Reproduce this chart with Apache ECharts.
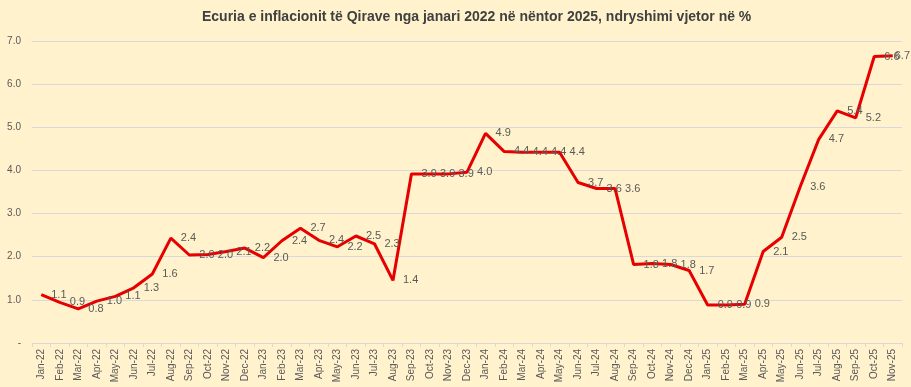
<!DOCTYPE html>
<html>
<head>
<meta charset="utf-8">
<script src="https://cdn.jsdelivr.net/npm/echarts@6/dist/echarts.min.js"></script>
<style>
html,body{margin:0;padding:0;background:#fff2cc;}
#chart{width:911px;height:387px;}
</style>
</head>
<body>
<div id="chart"></div>
<script>
const titleText = 'Ecuria e inflacionit të Qirave nga janari 2022 në nëntor 2025, ndryshimi vjetor në %';
const months = ['Jan-22','Feb-22','Mar-22','Apr-22','May-22','Jun-22','Jul-22','Aug-22','Sep-22','Oct-22','Nov-22','Dec-22',
  'Jan-23','Feb-23','Mar-23','Apr-23','May-23','Jun-23','Jul-23','Aug-23','Sep-23','Oct-23','Nov-23','Dec-23',
  'Jan-24','Feb-24','Mar-24','Apr-24','May-24','Jun-24','Jul-24','Aug-24','Sep-24','Oct-24','Nov-24','Dec-24',
  'Jan-25','Feb-25','Mar-25','Apr-25','May-25','Jun-25','Jul-25','Aug-25','Sep-25','Oct-25','Nov-25'];
const inflation = [1.12,0.94,0.79,0.97,1.08,1.28,1.6,2.43,2.04,2.05,2.12,2.2,
  1.98,2.37,2.66,2.38,2.23,2.48,2.3,1.45,3.92,3.92,3.92,3.96,
  4.86,4.44,4.42,4.42,4.42,3.72,3.58,3.58,1.82,1.84,1.82,1.68,
  0.88,0.88,0.9,2.12,2.45,3.62,4.72,5.38,5.22,6.64,6.66];
const yMin = 0, yMax = 7, yStep = 1;

const chart = echarts.init(document.getElementById('chart'));
chart.setOption({
  backgroundColor: '#fff2cc',
  animation: false,
  textStyle: {fontFamily: 'Liberation Sans, Arial, sans-serif'},
  title: {
    text: titleText,
    left: 197,
    top: 5,
    textStyle: {fontSize: 14, fontWeight: 'bold', color: '#404040', fontFamily: 'Liberation Sans, Arial, sans-serif'}
  },
  grid: {left: 32, right: 9, top: 41, bottom: 44, containLabel: false},
  xAxis: {
    type: 'category',
    data: months,
    boundaryGap: true,
    axisLine: {lineStyle: {color: '#d9d9d9', width: 1}},
    axisTick: {show: true, length: 4, lineStyle: {color: '#d9d9d9'}},
    axisLabel: {rotate: 90, interval: 0, fontSize: 10, color: '#595959', margin: 6}
  },
  yAxis: {
    type: 'value',
    min: yMin, max: yMax, interval: yStep,
    axisLine: {show: false},
    axisTick: {show: false},
    splitLine: {lineStyle: {color: '#d9d9d9', width: 1}},
    axisLabel: {fontSize: 10, color: '#595959', margin: 11,
      formatter: v => v === 0 ? '-' : v.toFixed(1)}
  },
  series: [{
    type: 'line',
    data: inflation,
    symbol: 'circle',
    symbolSize: 0,
    showSymbol: true,
    lineStyle: {color: '#e60000', width: 3},
    itemStyle: {color: '#e60000'},
    labelLayout: function (p) {
      const over = p.labelRect.x + p.labelRect.width - 910;
      return over > 0 ? {dx: -over, hideOverlap: false} : {hideOverlap: false};
    },
    label: {show: true, position: 'right', distance: 10, fontSize: 11, color: '#595959',
      formatter: p => p.value.toFixed(1)}
  }]
});
</script>
</body>
</html>
